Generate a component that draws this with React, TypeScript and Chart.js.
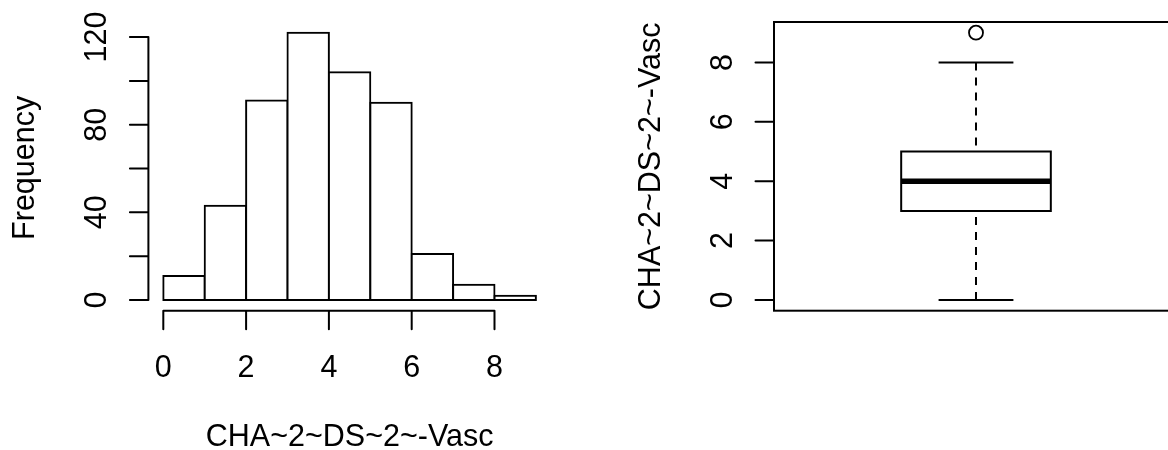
import React, { useEffect, useRef } from 'react';
import { Chart, registerables } from 'chart.js';

Chart.register(...registerables);

// ---------- data ----------
const histBinEdges = [0, 1, 2, 3, 4, 5, 6, 7, 8, 9];
const histCounts = [11, 43, 91, 122, 104, 90, 21, 7, 2];
const histXTicks = [0, 2, 4, 6, 8];
const histYTicks = [0, 20, 40, 60, 80, 100, 120];
const histYLabelTicks = [0, 40, 80, 120];
const histXTitle = 'CHA~2~DS~2~-Vasc';
const histYTitle = 'Frequency';

// five-number summary: lower whisker, Q1, median, Q3, upper whisker
const boxFiveNum = [0, 3, 4, 5, 8];
const boxOutliers = [9];
const boxYTicks = [0, 2, 4, 6, 8];
const boxYTitle = 'CHA~2~DS~2~-Vasc';

// ---------- style ----------
const FONT_FAMILY = '"Liberation Sans", Arial, Helvetica, sans-serif';
const FONT = `30.5px ${FONT_FAMILY}`;
const LINE = 2;
const TICK_LEN = 18.5;
const Y_LABEL_OFFSET = 42.3;
const Y_TITLE_OFFSET = 114;
const X_LABEL_OFFSET = 66;
const X_TITLE_OFFSET = 135.5;

Chart.defaults.font.family = FONT_FAMILY;

// R-style 4% axis extension
const ext = (lo: number, hi: number) => {
  const d = (hi - lo) * 0.04;
  return [lo - d, hi + d];
};

const drawRotated = (ctx: CanvasRenderingContext2D, text: string, x: number, y: number) => {
  ctx.save();
  ctx.translate(x, y);
  ctx.rotate(-Math.PI / 2);
  ctx.textAlign = 'center';
  ctx.textBaseline = 'alphabetic';
  ctx.fillText(text, 0, 0);
  ctx.restore();
};

const histAxesPlugin = {
  id: 'histAxes',
  afterDraw(chart: any) {
    const { ctx, chartArea, scales } = chart;
    const xs = scales.x;
    const ys = scales.y;
    ctx.save();
    ctx.strokeStyle = '#000';
    ctx.fillStyle = '#000';
    ctx.lineWidth = LINE;
    ctx.lineCap = 'round';
    ctx.font = FONT;

    // y axis
    const ax = chartArea.left;
    ctx.beginPath();
    ctx.moveTo(ax, ys.getPixelForValue(histYTicks[0]));
    ctx.lineTo(ax, ys.getPixelForValue(histYTicks[histYTicks.length - 1]));
    histYTicks.forEach((v) => {
      const y = ys.getPixelForValue(v);
      ctx.moveTo(ax, y);
      ctx.lineTo(ax - TICK_LEN, y);
    });
    ctx.stroke();
    histYLabelTicks.forEach((v) => {
      drawRotated(ctx, String(v), ax - Y_LABEL_OFFSET, ys.getPixelForValue(v));
    });
    drawRotated(ctx, histYTitle, ax - Y_TITLE_OFFSET, (chartArea.top + chartArea.bottom) / 2 + 1.5);

    // x axis
    const ay = chartArea.bottom;
    ctx.beginPath();
    ctx.moveTo(xs.getPixelForValue(histXTicks[0]), ay);
    ctx.lineTo(xs.getPixelForValue(histXTicks[histXTicks.length - 1]), ay);
    histXTicks.forEach((v) => {
      const x = xs.getPixelForValue(v);
      ctx.moveTo(x, ay);
      ctx.lineTo(x, ay + TICK_LEN);
    });
    ctx.stroke();
    ctx.textAlign = 'center';
    ctx.textBaseline = 'alphabetic';
    histXTicks.forEach((v) => {
      ctx.fillText(String(v), xs.getPixelForValue(v), ay + X_LABEL_OFFSET);
    });
    ctx.fillText(histXTitle, (chartArea.left + chartArea.right) / 2, ay + X_TITLE_OFFSET);
    ctx.restore();
  },
};

const boxAxesPlugin = {
  id: 'boxAxes',
  afterDraw(chart: any) {
    const { ctx, chartArea, scales } = chart;
    const ys = scales.y;
    ctx.save();
    ctx.strokeStyle = '#000';
    ctx.fillStyle = '#000';
    ctx.lineWidth = LINE;
    ctx.lineCap = 'round';
    ctx.font = FONT;

    ctx.strokeRect(chartArea.left, chartArea.top, chartArea.right - chartArea.left, chartArea.bottom - chartArea.top);

    const ax = chartArea.left;
    ctx.beginPath();
    boxYTicks.forEach((v) => {
      const y = ys.getPixelForValue(v);
      ctx.moveTo(ax, y);
      ctx.lineTo(ax - TICK_LEN, y);
    });
    ctx.stroke();
    boxYTicks.forEach((v) => {
      drawRotated(ctx, String(v), ax - Y_LABEL_OFFSET, ys.getPixelForValue(v));
    });
    drawRotated(ctx, boxYTitle, ax - Y_TITLE_OFFSET, (chartArea.top + chartArea.bottom) / 2);
    ctx.restore();
  },
};

export default function App() {
  const leftRef = useRef<HTMLCanvasElement>(null);
  const rightRef = useRef<HTMLCanvasElement>(null);

  useEffect(() => {
    const [hxMin, hxMax] = ext(histBinEdges[0], histBinEdges[histBinEdges.length - 1]);
    const [hyMin, hyMax] = ext(0, Math.max(...histCounts));
    const histData = histCounts.map((c, i) => ({ x: (histBinEdges[i] + histBinEdges[i + 1]) / 2, y: c }));

    const hist = new Chart(leftRef.current as HTMLCanvasElement, {
      type: 'bar',
      data: {
        datasets: [
          {
            data: histData as any,
            backgroundColor: '#ffffff',
            borderColor: '#000000',
            borderWidth: LINE,
            // centre each outline on the bin edge, like R's rect()
            inflateAmount: LINE / 2,
            borderSkipped: false,
            barPercentage: 1,
            categoryPercentage: 1,
          } as any,
        ],
      },
      options: {
        animation: false,
        responsive: false,
        devicePixelRatio: 1,
        layout: { autoPadding: false, padding: { left: 148.4, right: 33.2, top: 22, bottom: 139.3 } },
        plugins: { legend: { display: false }, tooltip: { enabled: false } },
        events: [],
        scales: {
          x: {
            type: 'linear',
            min: hxMin,
            max: hxMax,
            offset: false,
            display: false,
            ticks: { stepSize: 1, includeBounds: false },
          },
          y: { type: 'linear', min: hyMin, max: hyMax, display: false },
        },
      } as any,
      plugins: [histAxesPlugin],
    });

    const [bMin, bQ1, bMed, bQ3, bMax] = boxFiveNum;
    const [byMin, byMax] = ext(Math.min(bMin, ...boxOutliers), Math.max(bMax, ...boxOutliers));
    const [bxMin, bxMax] = ext(0.5, 1.5);
    const pos = 1;
    const half = 0.2; // boxwex 0.8 * 0.5 / 2
    const staple = half / 2;
    const lineDs = (data: { x: number; y: number }[], extra: any = {}) => ({
      data,
      showLine: true,
      borderColor: '#000',
      borderWidth: LINE,
      pointRadius: 0,
      pointHoverRadius: 0,
      fill: false,
      tension: 0,
      ...extra,
    });

    const box = new Chart(rightRef.current as HTMLCanvasElement, {
      type: 'scatter',
      data: {
        datasets: [
          lineDs(
            [
              { x: pos - half, y: bQ1 },
              { x: pos + half, y: bQ1 },
              { x: pos + half, y: bQ3 },
              { x: pos - half, y: bQ3 },
              { x: pos - half, y: bQ1 },
            ],
            { borderCapStyle: 'square', borderJoinStyle: 'miter' }
          ),
          lineDs([{ x: pos - half, y: bMed }, { x: pos + half, y: bMed }], { borderWidth: 5.5, borderCapStyle: 'butt' }),
          lineDs([{ x: pos, y: bMax }, { x: pos, y: bQ3 }], { borderDash: [8, 7] }),
          lineDs([{ x: pos, y: bMin }, { x: pos, y: bQ1 }], { borderDash: [8, 7] }),
          lineDs([{ x: pos - staple, y: bMax }, { x: pos + staple, y: bMax }]),
          lineDs([{ x: pos - staple, y: bMin }, { x: pos + staple, y: bMin }]),
          {
            data: boxOutliers.map((v) => ({ x: pos, y: v })),
            showLine: false,
            pointRadius: 7,
            pointHoverRadius: 7,
            pointBorderWidth: 1.8,
            pointBorderColor: '#000',
            pointBackgroundColor: 'rgba(0,0,0,0)',
            pointStyle: 'circle',
          },
        ] as any,
      },
      options: {
        animation: false,
        responsive: false,
        devicePixelRatio: 1,
        // the plot region runs past the right edge of the figure, as in the reference
        layout: { autoPadding: false, padding: { left: 190, right: 0, top: 22, bottom: 139.3 } },
        plugins: { legend: { display: false }, tooltip: { enabled: false } },
        events: [],
        scales: {
          x: { type: 'linear', min: bxMin, max: bxMax, display: false },
          y: { type: 'linear', min: byMin, max: byMax, display: false },
        },
      } as any,
      plugins: [boxAxesPlugin],
    });

    return () => {
      hist.destroy();
      box.destroy();
    };
  }, []);

  return (
    <div
      style={{
        position: 'fixed',
        left: 0,
        top: 0,
        width: 1168,
        height: 450,
        overflow: 'hidden',
        background: '#ffffff',
      }}
    >
      <canvas
        ref={leftRef}
        width={584}
        height={450}
        style={{ position: 'absolute', left: 0, top: 0, width: 584, height: 450 }}
      />
      <canvas
        ref={rightRef}
        width={594}
        height={450}
        style={{ position: 'absolute', left: 584, top: 0, width: 594, height: 450 }}
      />
    </div>
  );
}
